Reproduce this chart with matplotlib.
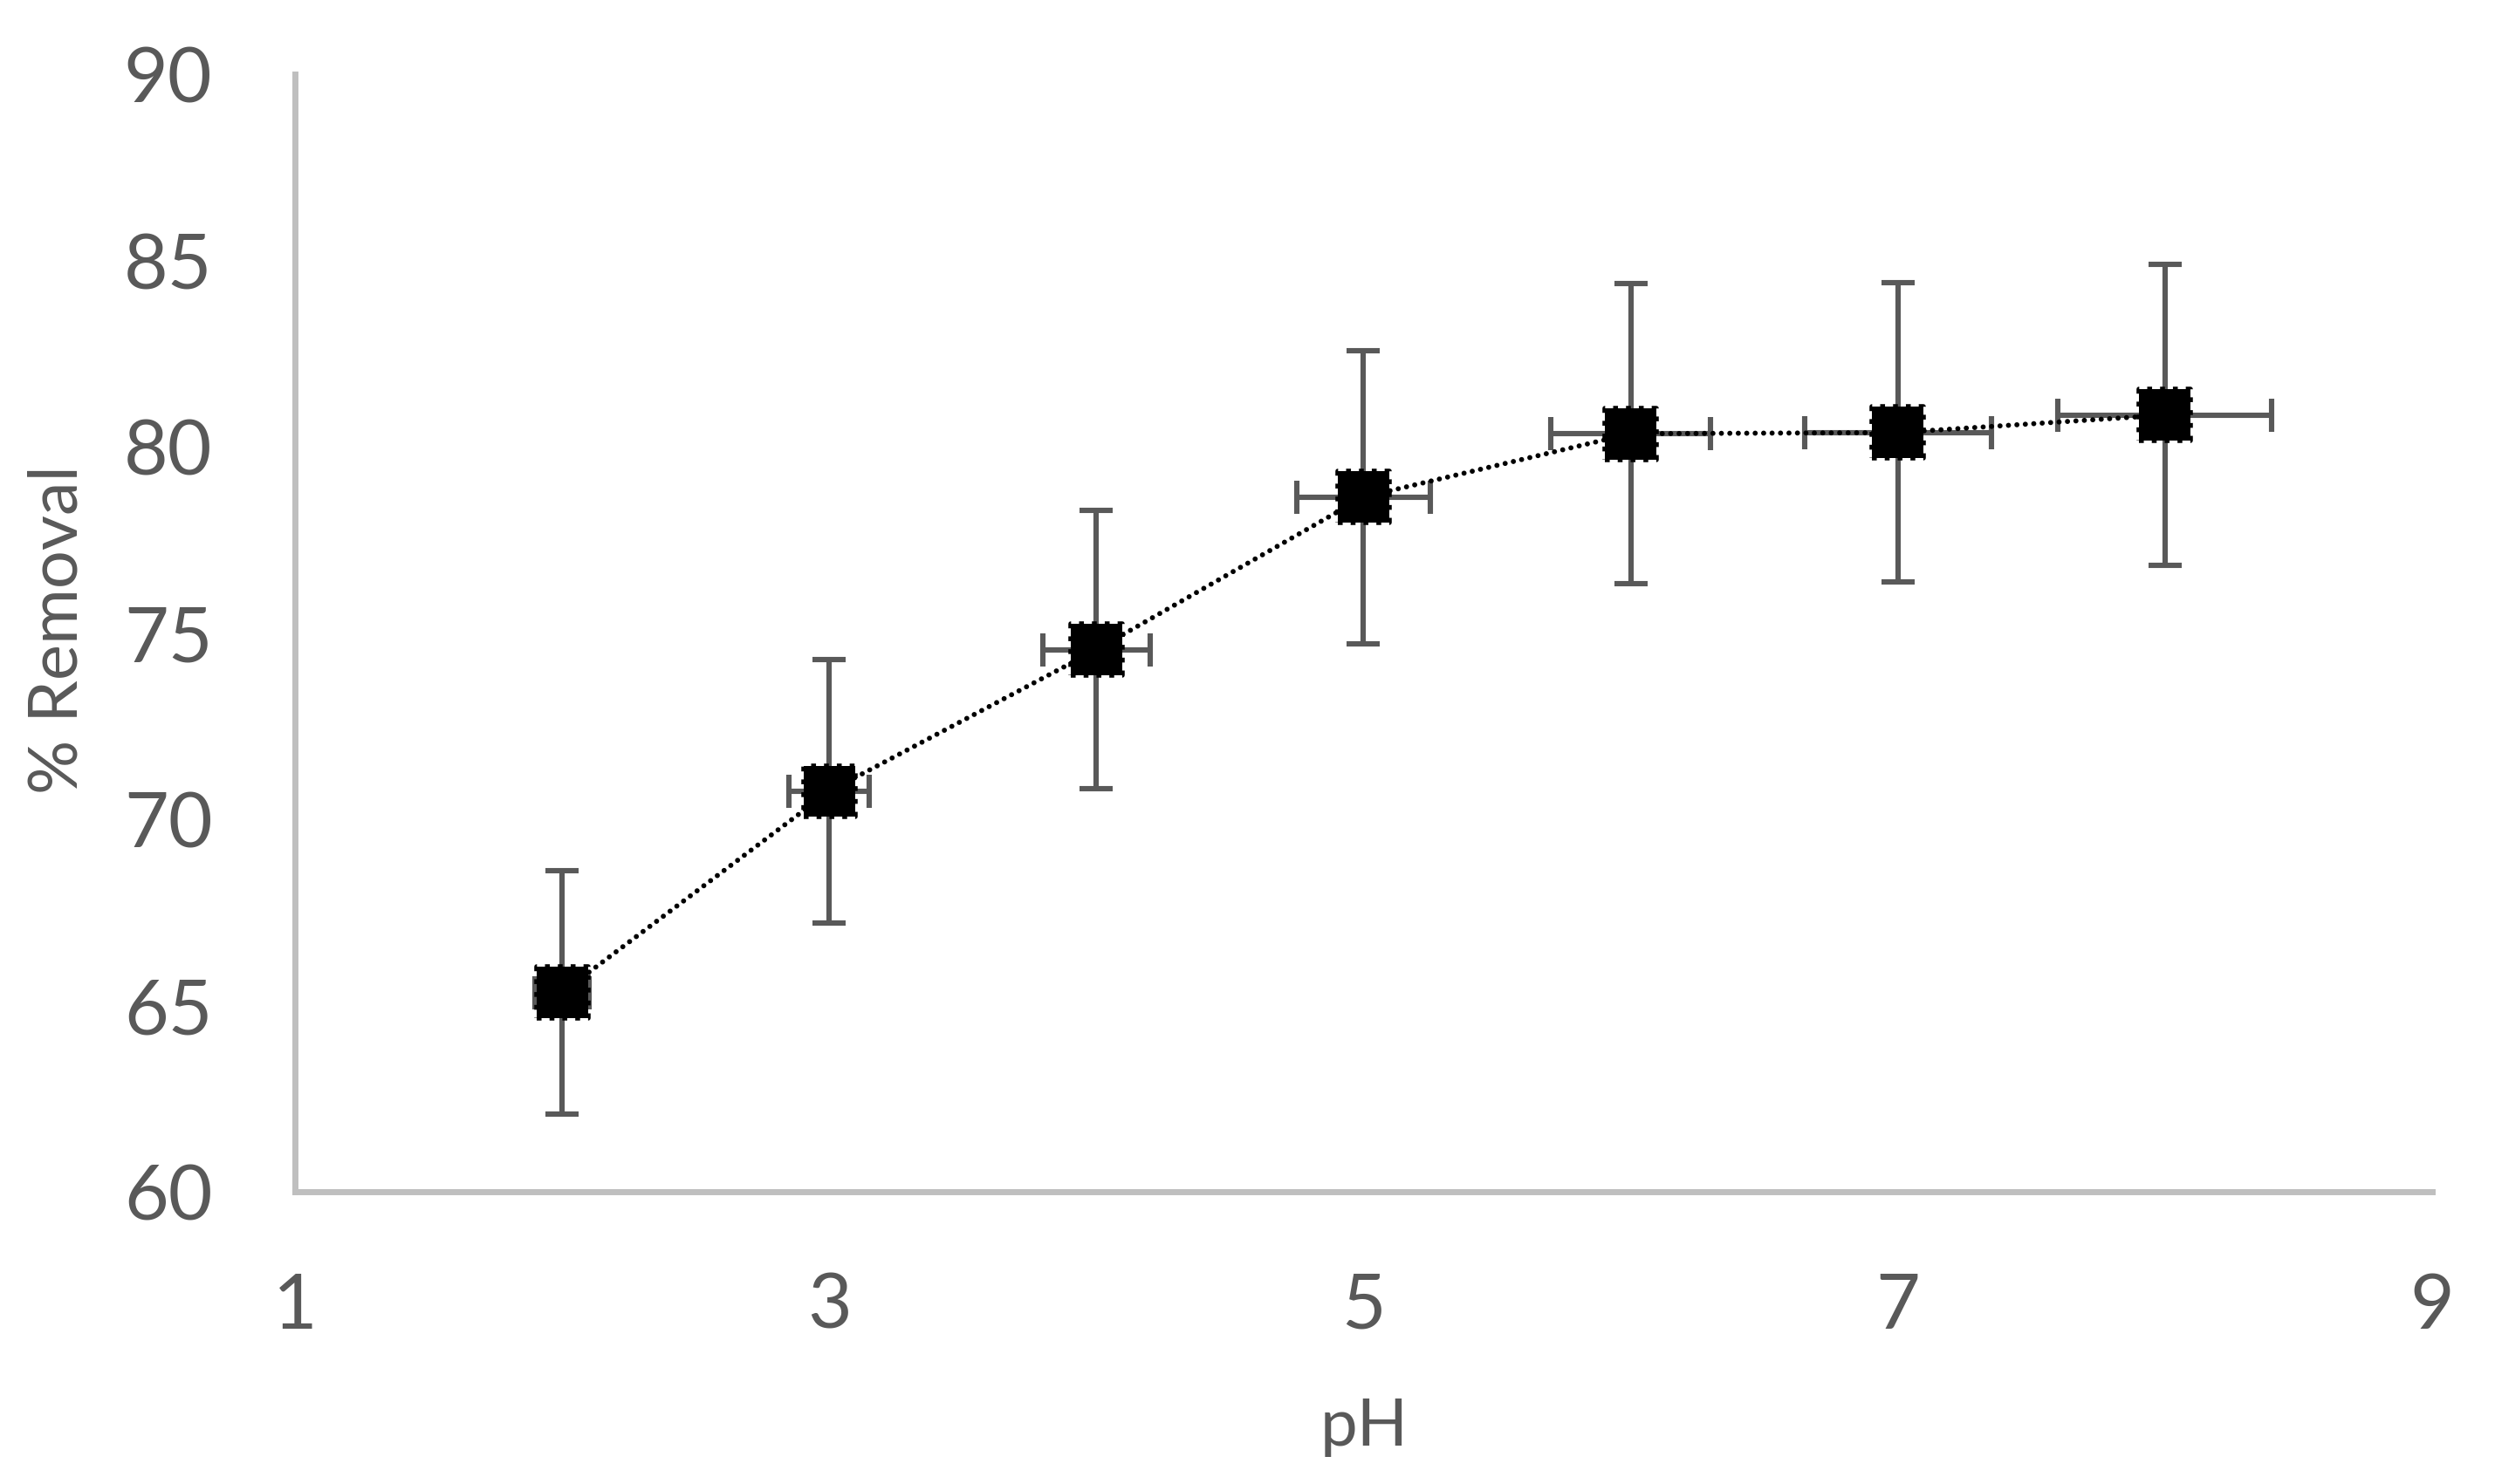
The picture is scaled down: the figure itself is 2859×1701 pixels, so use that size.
import matplotlib
matplotlib.use("Agg")
import matplotlib.pyplot as plt

# Data
ph = [2, 3, 4, 5, 6, 7, 8]
removal = [65.35, 70.75, 74.55, 78.65, 80.35, 80.38, 80.85]
removal_err = [3.27, 3.54, 3.73, 3.93, 4.02, 4.02, 4.04]
ph_err = [0.10, 0.15, 0.20, 0.25, 0.30, 0.35, 0.40]

x_ticks = [1, 3, 5, 7, 9]
y_ticks = [60, 65, 70, 75, 80, 85, 90]

GREY = "#595959"
SPINE = "#BFBFBF"
FONT = ["Lato", "DejaVu Sans"]

plt.rcParams["font.family"] = FONT

fig = plt.figure(figsize=(14.295, 8.5095), dpi=200)
ax = fig.add_axes([0.1182, 0.1968, 0.8566, 0.7527])

# error bars (drawn first, under line and markers)
ax.errorbar(
    ph, removal, yerr=removal_err, xerr=ph_err,
    fmt="none", ecolor=GREY, elinewidth=2.2,
    capsize=7, capthick=2.2, zorder=2,
)

# dotted connecting line
ax.plot(
    ph, removal, color="black", linewidth=2.1,
    linestyle=(0, (0.01, 1.65)), dash_capstyle="round", zorder=3,
)

# square markers with dotted outline
ax.scatter(
    ph, removal, s=450, marker="s", facecolors="black",
    edgecolors="black", linewidths=2.0, linestyles=":", zorder=4,
)

ax.set_xlim(1, 9)
ax.set_ylim(60, 90)
ax.set_xticks(x_ticks)
ax.set_yticks(y_ticks)
ax.tick_params(axis="both", length=0, labelsize=31.5, colors=GREY)
ax.tick_params(axis="x", pad=33)
ax.tick_params(axis="y", pad=34)

for side in ("top", "right"):
    ax.spines[side].set_visible(False)
for side in ("left", "bottom"):
    ax.spines[side].set_color(SPINE)
    ax.spines[side].set_linewidth(2.5)

fig.text(67 / 2859, 1 - 722 / 1702, "% Removal", rotation=90,
         ha="center", va="center", fontsize=28, color=GREY)
fig.text(1563 / 2859, 1 - 1657 / 1702, "pH",
         ha="center", va="baseline", fontsize=27.5, color=GREY)

fig.savefig("out.png", dpi=200, facecolor="white")
